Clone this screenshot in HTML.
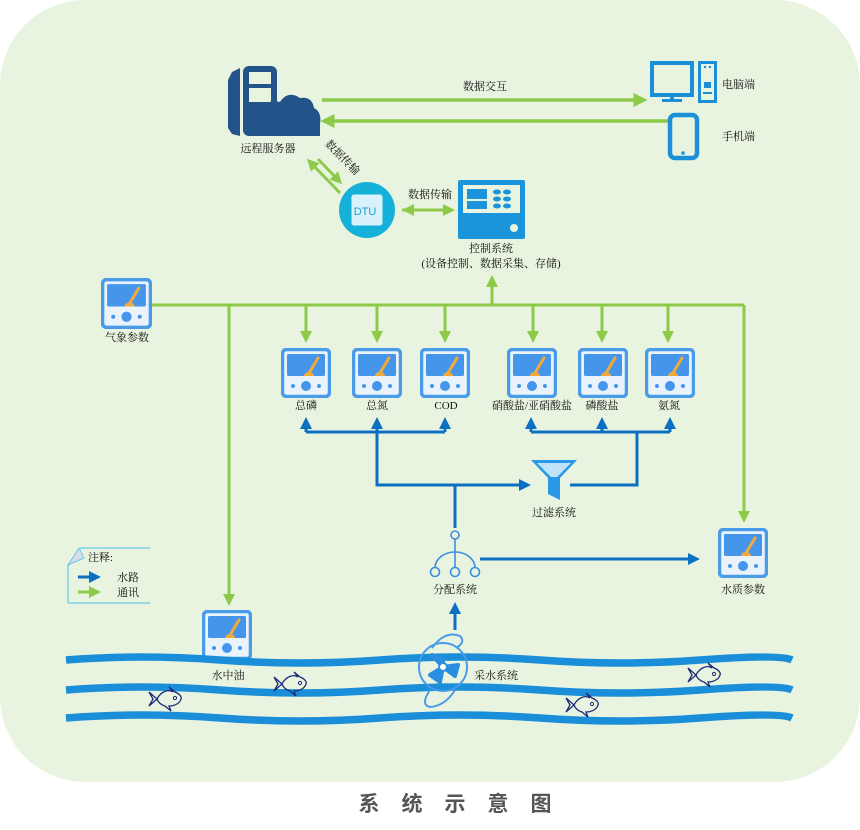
<!DOCTYPE html>
<html><head><meta charset="utf-8"><style>
html,body{margin:0;padding:0;background:#fff;}
svg{display:block;}
text{font-family:"Liberation Serif","Noto Serif CJK SC",serif;font-size:11px;fill:#111;}
</style></head><body>
<svg width="860" height="830" viewBox="0 0 860 830" xmlns="http://www.w3.org/2000/svg">
<defs>
<symbol id="m" viewBox="0 0 50 50">
<rect x="1.5" y="1.5" width="47" height="47" rx="4" fill="#eaf3fb" stroke="#4a9be8" stroke-width="3.5"/>
<rect x="6" y="6" width="38" height="22" rx="1.5" fill="#4596ea"/>
<path d="M37 10 L28 25" stroke="#f3a93a" stroke-width="3" stroke-linecap="round"/>
<path d="M23 28 a5 4 0 0 1 10 0z" fill="#f3a93a"/>
<circle cx="25" cy="38" r="5" fill="#4596ea"/>
<circle cx="12" cy="38" r="2" fill="#4596ea"/>
<circle cx="38" cy="38" r="2" fill="#4596ea"/>
</symbol>
<marker id="ga" markerWidth="4" markerHeight="4" refX="3" refY="2" orient="auto" markerUnits="strokeWidth"><path d="M0,0 L4,2 L0,4z" fill="#8dca4a"/></marker>
<marker id="ba" markerWidth="4" markerHeight="4" refX="3" refY="2" orient="auto" markerUnits="strokeWidth"><path d="M0,0 L4,2 L0,4z" fill="#0b6fc2"/></marker>
<symbol id="fish" viewBox="0 0 36 26">
<path d="M2 6 L10 13 L2 20 L6 13z M10 13 C14 5 22 3 26 6 L22 1 L28 6 C33 8 35 11 34 13 C33 17 28 20 22 20 L24 25 L18 20 C14 19 11 16 10 13z" fill="none" stroke="#1c2b7a" stroke-width="1.3"/>
<circle cx="28" cy="12" r="1.6" fill="none" stroke="#1c2b7a" stroke-width="1"/>
</symbol>
</defs>
<rect x="0" y="0" width="860" height="782" rx="85" ry="85" fill="#e8f4df"/>

<!-- server -->
<path d="M240 68 L232 72 L228 80 L228 128 L232 134 L240 136z" fill="#22548a"/>
<rect x="243" y="66" width="34" height="70" rx="6" fill="#22548a"/>
<rect x="249" y="72" width="22" height="12" fill="#e8f4df"/>
<rect x="249" y="88" width="22" height="14" fill="#e8f4df"/>
<path d="M262 136 L262 112 Q266 98 280 102 Q288 90 300 98 Q312 96 314 108 Q322 112 320 124 L320 136z" fill="#22548a"/>
<text x="268" y="152" text-anchor="middle">远程服务器</text>

<line x1="322" y1="100" x2="644" y2="100" stroke="#8dca4a" stroke-width="3.5" marker-end="url(#ga)"/>
<line x1="668" y1="121" x2="324" y2="121" stroke="#8dca4a" stroke-width="3.5" marker-end="url(#ga)"/>
<text x="485" y="90" text-anchor="middle">数据交互</text>

<!-- PC -->
<rect x="652" y="63" width="40" height="32" fill="none" stroke="#1b8fd8" stroke-width="4"/>
<rect x="670" y="95" width="4" height="6" fill="#1b8fd8"/>
<rect x="662" y="99" width="20" height="3" fill="#1b8fd8"/>
<rect x="698" y="61" width="19" height="42" fill="#1b8fd8"/>
<rect x="701" y="64" width="13" height="36" fill="#e8f4df"/>
<circle cx="705" cy="67" r="1.2" fill="#1b8fd8"/><circle cx="710" cy="67" r="1.2" fill="#1b8fd8"/>
<rect x="704" y="82" width="7" height="6" fill="#1b8fd8"/><rect x="703" y="92" width="9" height="2" fill="#1b8fd8"/>
<text x="722" y="88">电脑端</text>
<rect x="670" y="115" width="27" height="43" rx="5" fill="none" stroke="#1b8fd8" stroke-width="4.5"/>
<circle cx="683" cy="153" r="1.8" fill="#1b8fd8"/>
<text x="722" y="140">手机端</text>

<!-- DTU -->
<line x1="318" y1="159" x2="340" y2="182" stroke="#8dca4a" stroke-width="3" marker-end="url(#ga)"/>
<line x1="340" y1="193" x2="309" y2="161" stroke="#8dca4a" stroke-width="3" marker-end="url(#ga)"/>
<text x="340" y="160" transform="rotate(45 340 160)" text-anchor="middle">数据传输</text>
<circle cx="367" cy="210" r="28" fill="#15b1d8"/>
<rect x="351" y="194" width="32" height="32" rx="3" fill="#d9f1fa" stroke="#15b1d8" stroke-width="1"/>
<text x="365" y="215" text-anchor="middle" style="font-family:'Liberation Sans',sans-serif;font-size:11px;fill:#15a0cc">DTU</text>
<line x1="402" y1="210" x2="452" y2="210" stroke="#8dca4a" stroke-width="3" marker-end="url(#ga)"/>
<line x1="452" y1="210" x2="405" y2="210" stroke="#8dca4a" stroke-width="3" marker-end="url(#ga)"/>
<text x="430" y="198" text-anchor="middle">数据传输</text>

<!-- control -->
<rect x="458" y="180" width="67" height="59" rx="2" fill="#1a95dc"/>
<rect x="463" y="185" width="57" height="28" fill="#e8f4df"/>
<rect x="467" y="189" width="20" height="10" fill="#1a95dc"/>
<rect x="467" y="201" width="20" height="8" fill="#1a95dc"/>
<g fill="#1a95dc"><ellipse cx="497" cy="192" rx="4" ry="2.5"/><ellipse cx="507" cy="192" rx="4" ry="2.5"/><ellipse cx="497" cy="199" rx="4" ry="2.5"/><ellipse cx="507" cy="199" rx="4" ry="2.5"/><ellipse cx="497" cy="206" rx="4" ry="2.5"/><ellipse cx="507" cy="206" rx="4" ry="2.5"/></g>
<circle cx="514" cy="228" r="4" fill="#e8f4df"/>
<text x="491" y="252" text-anchor="middle">控制系统</text>
<text x="491" y="267" text-anchor="middle">(设备控制、数据采集、存储)</text>

<!-- green bus -->
<line x1="152" y1="305" x2="744" y2="305" stroke="#8dca4a" stroke-width="3"/>
<line x1="492" y1="305" x2="492" y2="278" stroke="#8dca4a" stroke-width="3" marker-end="url(#ga)"/>
<use href="#m" x="101" y="278" width="51" height="51"/>
<text x="127" y="341" text-anchor="middle">气象参数</text>
<g stroke="#8dca4a" stroke-width="3" marker-end="url(#ga)">
<line x1="306" y1="305" x2="306" y2="340"/><line x1="377" y1="305" x2="377" y2="340"/><line x1="445" y1="305" x2="445" y2="340"/>
<line x1="533" y1="305" x2="533" y2="340"/><line x1="602" y1="305" x2="602" y2="340"/><line x1="668" y1="305" x2="668" y2="340"/>
<line x1="229" y1="305" x2="229" y2="603"/><line x1="744" y1="305" x2="744" y2="520"/>
</g>
<use href="#m" x="281" y="348" width="50" height="50"/>
<use href="#m" x="352" y="348" width="50" height="50"/>
<use href="#m" x="420" y="348" width="50" height="50"/>
<use href="#m" x="507" y="348" width="50" height="50"/>
<use href="#m" x="578" y="348" width="50" height="50"/>
<use href="#m" x="645" y="348" width="50" height="50"/>
<text x="306" y="409" text-anchor="middle">总磷</text>
<text x="377" y="409" text-anchor="middle">总氮</text>
<text x="446" y="409" text-anchor="middle">COD</text>
<text x="532" y="409" text-anchor="middle">硝酸盐/亚硝酸盐</text>
<text x="602" y="409" text-anchor="middle">磷酸盐</text>
<text x="669" y="409" text-anchor="middle">氨氮</text>

<!-- blue water paths -->
<g stroke="#0b6fc2" stroke-width="3" fill="none">
<polyline points="306,432 445,432"/><polyline points="531,432 670,432"/>
<polyline points="377,432 377,485 528,485" marker-end="url(#ba)"/>
<polyline points="570,485 637,485 637,432"/>
<line x1="455" y1="485" x2="455" y2="528"/>
</g>
<g stroke="#0b6fc2" stroke-width="3" marker-end="url(#ba)">
<line x1="306" y1="432" x2="306" y2="420"/><line x1="377" y1="432" x2="377" y2="420"/><line x1="445" y1="432" x2="445" y2="420"/>
<line x1="531" y1="432" x2="531" y2="420"/><line x1="602" y1="432" x2="602" y2="420"/><line x1="670" y1="432" x2="670" y2="420"/>
<line x1="480" y1="559" x2="697" y2="559"/><line x1="455" y1="630" x2="455" y2="605"/>
</g>
<!-- funnel -->
<path d="M531 460 L577 460 L560 478 L560 500 L548 494 L548 478z" fill="#2a9ae8"/>
<path d="M537 463 L571 463 L557 477 L551 477z" fill="#bfe3fa"/>
<text x="554" y="516" text-anchor="middle">过滤系统</text>

<!-- distribution -->
<g stroke="#3a8fe0" stroke-width="1.6" fill="none">
<circle cx="455" cy="535" r="4"/><line x1="455" y1="539" x2="455" y2="567"/>
<path d="M435 568 a20 16 0 0 1 40 0"/>
<circle cx="435" cy="572" r="4.5" fill="#e8f4df"/><circle cx="455" cy="572" r="4.5" fill="#e8f4df"/><circle cx="475" cy="572" r="4.5" fill="#e8f4df"/>
</g>
<text x="455" y="593" text-anchor="middle">分配系统</text>
<use href="#m" x="718" y="528" width="50" height="50"/>
<text x="743" y="593" text-anchor="middle">水质参数</text>
<use href="#m" x="202" y="610" width="50" height="50"/>

<!-- waves -->
<g stroke="#1a8ed8" stroke-width="7.5" fill="none">
<path d="M66 660 Q140 654 220 660 T380 660 T540 660 T700 660 T792 660"/>
<path d="M66 690 Q140 684 220 690 T380 690 T540 690 T700 690 T792 690"/>
<path d="M66 718 Q140 712 220 718 T380 718 T540 718 T700 718 T792 718"/>
</g>
<text x="228" y="679" text-anchor="middle">水中油</text>
<!-- pump -->
<g stroke="#4a9be8" stroke-width="2" fill="none">
<circle cx="443" cy="667" r="24"/>
<path d="M432 648 Q445 630 460 636 Q466 642 456 648"/>
<path d="M430 690 Q420 705 430 707 Q445 706 455 690"/>
</g>
<path d="M443 667 L432 655 L443 660z M443 667 L458 665 L455 676z M443 667 L440 682 L430 675z" fill="#2a8ee0" stroke="#2a8ee0" stroke-width="4" stroke-linejoin="round"/>
<circle cx="443" cy="667" r="4" fill="#fff" stroke="#2a8ee0" stroke-width="2"/>
<text x="474" y="679">采水系统</text>

<use href="#fish" x="147" y="686" width="36" height="26"/>
<use href="#fish" x="272" y="671" width="36" height="26"/>
<use href="#fish" x="564" y="692" width="36" height="26"/>
<use href="#fish" x="686" y="662" width="36" height="26"/>

<!-- legend -->
<path d="M80 548 L150 548" stroke="#4cc0ea" stroke-width="1"/>
<path d="M68 603 L150 603" stroke="#4cc0ea" stroke-width="1"/>
<path d="M68 565 L68 603" stroke="#4cc0ea" stroke-width="1"/>
<path d="M68 565 L79 548 L84 558z" fill="#d6dde6" stroke="#4cc0ea" stroke-width="0.8"/>
<text x="88" y="561">注释:</text>
<line x1="78" y1="577" x2="98" y2="577" stroke="#0b6fc2" stroke-width="3" marker-end="url(#ba)"/>
<line x1="78" y1="592" x2="98" y2="592" stroke="#8dca4a" stroke-width="3" marker-end="url(#ga)"/>
<text x="117" y="581">水路</text>
<text x="117" y="596">通讯</text>

<text x="466" y="811" text-anchor="middle" style="font-family:'Liberation Sans','Noto Sans CJK SC',sans-serif;font-size:21px;font-weight:bold;fill:#555;letter-spacing:22px">系统示意图</text>
</svg>
</body></html>
